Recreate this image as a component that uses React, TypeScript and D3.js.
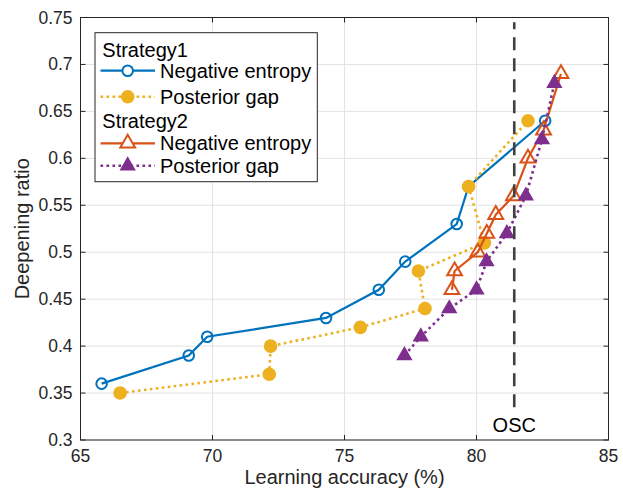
import React from "react";
import * as d3 from "d3";

const s1NegX = [65.8, 69.1, 69.8, 74.3, 76.3, 77.3, 79.25, 79.7, 82.6];
const s1NegY = [0.36, 0.39, 0.41, 0.43, 0.46, 0.49, 0.53, 0.57, 0.64];
const s1PostX = [66.5, 72.15, 72.2, 75.6, 78.05, 77.8, 80.3, 79.7, 81.95];
const s1PostY = [0.35, 0.37, 0.40, 0.42, 0.44, 0.48, 0.51, 0.57, 0.64];
const s2NegX = [79.07, 79.17, 80.05, 80.39, 80.73, 81.4, 81.95, 82.54, 83.2];
const s2NegY = [0.46, 0.48, 0.50, 0.52, 0.54, 0.56, 0.60, 0.63, 0.69];
const s2PostX = [77.27, 77.89, 78.97, 80.0, 80.38, 81.15, 81.87, 82.48, 82.95];
const s2PostY = [0.39, 0.41, 0.44, 0.46, 0.49, 0.52, 0.56, 0.62, 0.68];
const oscX = 81.43;
const oscY = [0.335, 0.745];
const xTicks = [65, 70, 75, 80, 85];
const yTicks = [0.3, 0.35, 0.4, 0.45, 0.5, 0.55, 0.6, 0.65, 0.7, 0.75];

const BLUE = "#0072BD";
const ORANGE = "#D95319";
const YELLOW = "#EDB120";
const PURPLE = "#7E2F8E";
const AX = "#262626";
const FONT = "Arial, 'Liberation Sans', Helvetica, sans-serif";

const L = 80.5, R = 608.5, T = 17.5, B = 440;

export default function App() {
  const x = d3.scaleLinear().domain([65, 85]).range([L, R]);
  const y = d3.scaleLinear().domain([0.3, 0.75]).range([B, T]);
  const line = d3.line<[number, number]>().x((d) => x(d[0])).y((d) => y(d[1]));
  const zip = (a: number[], b: number[]) => a.map((v, i) => [v, b[i]] as [number, number]);
  const tri = d3.symbol().type(d3.symbolTriangle);
  const triOpen = tri.size(95)();
  const triFill = tri.size(115)();

  const s1n = zip(s1NegX, s1NegY);
  const s1p = zip(s1PostX, s1PostY);
  const s2n = zip(s2NegX, s2NegY);
  const s2p = zip(s2PostX, s2PostY);

  const lx0 = 100.5, lx1 = 155, lm = 127.7, ltx = 160;
  const rows = [32.7 + 17, 70.7, 96.7, 120.7, 143.3, 165.7];
  const LF = 20;

  return (
    <svg width={623} height={495} style={{ position: "absolute", left: 0, top: 0, background: "#fff" }} fontFamily={FONT}>
      <rect x={0} y={0} width={623} height={495} fill="#fff" />
      {xTicks.map((t) => (
        <line key={"gx" + t} x1={x(t)} x2={x(t)} y1={T} y2={B} stroke="#e3e3e3" strokeWidth={1} />
      ))}
      {yTicks.map((t) => (
        <line key={"gy" + t} x1={L} x2={R} y1={y(t)} y2={y(t)} stroke="#e3e3e3" strokeWidth={1} />
      ))}
      <path d={line(s1n)!} fill="none" stroke={BLUE} strokeWidth={2.2} />
      {s1n.map((d, i) => (
        <circle key={"a" + i} cx={x(d[0])} cy={y(d[1])} r={5.3} fill="none" stroke={BLUE} strokeWidth={2} />
      ))}
      <path d={line(s1p)!} fill="none" stroke={YELLOW} strokeWidth={2.6} strokeDasharray="2.6,3.4" />
      {s1p.map((d, i) => (
        <circle key={"b" + i} cx={x(d[0])} cy={y(d[1])} r={6.8} fill={YELLOW} />
      ))}
      <path d={line(s2n)!} fill="none" stroke={ORANGE} strokeWidth={2.2} />
      {s2n.map((d, i) => (
        <path key={"c" + i} d={triOpen} transform={`translate(${x(d[0])},${y(d[1])})`} fill="none" stroke={ORANGE} strokeWidth={2} />
      ))}
      <path d={line(s2p)!} fill="none" stroke={PURPLE} strokeWidth={2.6} strokeDasharray="2.6,3.4" />
      {s2p.map((d, i) => (
        <path key={"d" + i} d={triFill} transform={`translate(${x(d[0])},${y(d[1])})`} fill={PURPLE} />
      ))}
      <line x1={x(oscX)} x2={x(oscX)} y1={y(oscY[0])} y2={y(oscY[1])} stroke="#404040" strokeWidth={2.6} strokeDasharray="13,8" />
      <text x={x(oscX)} y={432} textAnchor="middle" fontSize={LF} fill="#000">OSC</text>
      <rect x={L} y={T} width={R - L} height={B - T} fill="none" stroke={AX} strokeWidth={1} />
      {xTicks.map((t) => (
        <g key={"tx" + t}>
          <line x1={x(t)} x2={x(t)} y1={B} y2={B - 5} stroke={AX} />
          <line x1={x(t)} x2={x(t)} y1={T} y2={T + 5} stroke={AX} />
          <text x={x(t)} y={B + 22} textAnchor="middle" fontSize={17.5} fill={AX}>{t}</text>
        </g>
      ))}
      {yTicks.map((t) => (
        <g key={"ty" + t}>
          <line x1={L} x2={L + 5} y1={y(t)} y2={y(t)} stroke={AX} />
          <line x1={R} x2={R - 5} y1={y(t)} y2={y(t)} stroke={AX} />
          <text x={L - 8} y={y(t) + 6} textAnchor="end" fontSize={17.5} fill={AX}>{String(t)}</text>
        </g>
      ))}
      <text x={(L + R) / 2} y={484} textAnchor="middle" fontSize={LF} fill={AX}>Learning accuracy (%)</text>
      <text transform={`translate(29,${(T + B) / 2}) rotate(-90)`} textAnchor="middle" fontSize={LF} fill={AX}>Deepening ratio</text>
      <rect x={95} y={32.7} width={222.3} height={149} fill="#fff" stroke={AX} strokeWidth={1} />
      <text x={102.3} y={rows[0] + 7} fontSize={LF} fill="#000">Strategy1</text>
      <line x1={lx0} x2={lx1} y1={rows[1]} y2={rows[1]} stroke={BLUE} strokeWidth={2.2} />
      <circle cx={lm} cy={rows[1]} r={5.3} fill="#fff" stroke={BLUE} strokeWidth={2} />
      <text x={ltx} y={rows[1] + 7} fontSize={LF} fill="#000">Negative entropy</text>
      <line x1={lx0} x2={lx1} y1={rows[2]} y2={rows[2]} stroke={YELLOW} strokeWidth={2.6} strokeDasharray="2.6,3.4" />
      <circle cx={lm} cy={rows[2]} r={6.8} fill={YELLOW} />
      <text x={ltx} y={rows[2] + 7} fontSize={LF} fill="#000">Posterior gap</text>
      <text x={102.3} y={rows[3] + 7} fontSize={LF} fill="#000">Strategy2</text>
      <line x1={lx0} x2={lx1} y1={rows[4]} y2={rows[4]} stroke={ORANGE} strokeWidth={2.2} />
      <path d={triOpen} transform={`translate(${lm},${rows[4]})`} fill="#fff" stroke={ORANGE} strokeWidth={2} />
      <text x={ltx} y={rows[4] + 7} fontSize={LF} fill="#000">Negative entropy</text>
      <line x1={lx0} x2={lx1} y1={rows[5]} y2={rows[5]} stroke={PURPLE} strokeWidth={2.6} strokeDasharray="2.6,3.4" />
      <path d={triFill} transform={`translate(${lm},${rows[5]})`} fill={PURPLE} />
      <text x={ltx} y={rows[5] + 7} fontSize={LF} fill="#000">Posterior gap</text>
    </svg>
  );
}
